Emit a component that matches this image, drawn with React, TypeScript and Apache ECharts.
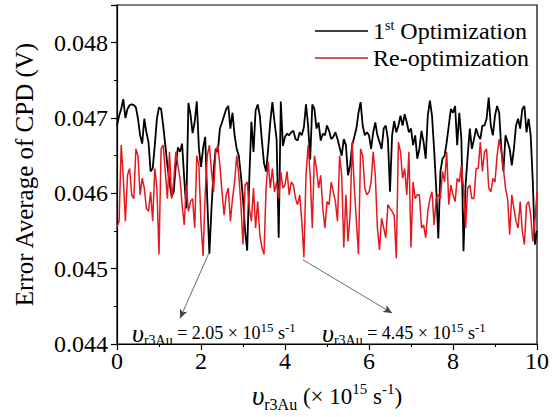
import React, { useEffect, useRef } from 'react';
import * as echarts from 'echarts';

const FONT = 'Liberation Serif';

// x grid of the samples (×10^15 s^-1)
const xStep = 0.05;

// 1st Optimization, mV, segments of 2 units of x
const firstOpt_0_2 = [46.9, 47.03, 47.12, 47.25, 47.0, 47.12, 47.17, 47.18, 47.17, 47.14,
  46.99, 46.77, 46.66, 46.99, 46.81, 46.68, 46.29, 46.33, 46.64, 46.99,
  47.14, 47.12, 46.9, 46.64, 46.37, 46.15, 45.96, 46.02, 46.37, 46.61,
  46.55, 46.66, 46.2, 45.8, 47.2, 47.05, 46.8, 46.95, 47.22, 46.6];
const firstOpt_2_4 = [46.35, 46.6, 46.75, 45.9, 45.2, 45.8, 46.3, 46.59, 46.55, 46.86,
  46.94, 47.03, 47.12, 47.16, 46.86, 47.07, 46.77, 46.59, 46.5, 46.24,
  45.93, 45.5, 45.24, 46.2, 46.95, 46.55, 47.1, 47.18, 47.03, 46.7,
  46.4, 46.29, 46.6, 46.95, 47.21, 46.95, 46.72, 45.41, 47.22, 46.63];
const firstOpt_4_6 = [46.75, 46.79, 46.77, 46.81, 46.83, 46.72, 46.7, 46.81, 46.77, 46.88,
  47.18, 46.9, 46.45, 47.18, 47.12, 46.86, 46.94, 46.7, 46.79, 46.77,
  46.9, 46.83, 46.72, 46.75, 46.81, 46.72, 46.61, 46.5, 46.72, 46.64,
  46.24, 46.37, 46.64, 46.75, 46.86, 47.07, 47.21, 46.9, 46.77, 46.81];
const firstOpt_6_8 = [46.77, 46.59, 46.81, 46.94, 46.77, 46.68, 46.59, 46.86, 46.9, 46.72,
  46.02, 46.77, 46.96, 46.81, 46.9, 47.03, 46.9, 47.05, 46.94, 46.81,
  46.86, 46.64, 46.77, 46.46, 46.59, 46.83, 46.68, 46.46, 47.03, 47.23,
  47.03, 46.59, 46.07, 45.4, 46.29, 46.46, 46.5, 46.68, 46.9, 47.12];
const firstOpt_8_10 = [47.07, 47.16, 46.64, 47.07, 46.72, 45.23, 46.11, 46.5, 46.86, 46.59,
  46.72, 46.86, 46.77, 46.72, 46.9, 46.9, 46.99, 47.27, 46.9, 46.77,
  47.03, 47.16, 47.07, 46.59, 46.29, 46.77, 46.68, 46.59, 46.37, 46.59,
  46.9, 46.99, 46.86, 47.12, 47.16, 46.81, 46.99, 46.77, 46.15, 45.32, 45.5];

// Re-optimization, mV
const reOpt_0_2 = [45.55, 45.63, 46.64, 46.2, 45.63, 46.24, 46.33, 45.98, 45.93, 46.59,
  46.5, 45.98, 46.2, 46.07, 45.8, 45.76, 46.02, 45.63, 46.33, 46.07,
  45.19, 46.59, 46.64, 46.29, 45.93, 46.55, 45.93, 46.15, 46.55, 46.37,
  46.2, 45.85, 45.58, 46.11, 45.76, 45.89, 45.93, 45.54, 46.5, 46.37];
const reOpt_2_4 = [45.6, 45.17, 46.0, 46.5, 46.64, 46.29, 46.02, 46.55, 46.64, 46.37,
  46.02, 45.71, 45.98, 46.07, 45.63, 45.93, 46.15, 46.5, 46.24, 45.85,
  45.32, 46.11, 46.15, 45.8, 45.63, 46.07, 45.54, 45.89, 45.45, 45.28,
  45.19, 46.07, 46.42, 46.07, 46.33, 46.02, 46.15, 45.93, 46.29, 46.07];
const reOpt_4_6 = [46.11, 46.29, 45.98, 46.15, 46.11, 45.93, 45.85, 45.98, 45.63, 45.15,
  46.24, 46.64, 46.24, 45.54, 46.5, 46.33, 46.07, 46.24, 45.8, 45.54,
  45.89, 45.85, 46.15, 46.02, 45.89, 45.63, 46.5, 46.24, 45.28, 45.98,
  45.36, 45.71, 46.68, 46.07, 45.63, 45.19, 46.59, 46.5, 46.07, 45.98];
const reOpt_6_8 = [46.02, 46.15, 46.55, 46.24, 45.54, 45.25, 45.67, 45.54, 45.41, 45.85,
  45.8, 45.76, 45.71, 45.14, 46.68, 46.55, 46.2, 46.33, 45.98, 46.55,
  45.28, 46.15, 45.93, 45.98, 45.98, 45.54, 45.58, 45.41, 45.76, 45.93,
  46.02, 45.58, 45.93, 45.98, 45.93, 46.29, 46.15, 46.55, 45.85, 46.11];
const reOpt_8_10 = [45.98, 45.89, 46.2, 46.15, 46.37, 46.07, 45.54, 46.07, 46.11, 45.93,
  45.93, 46.33, 46.33, 46.68, 46.29, 46.55, 46.59, 46.07, 46.02, 46.2,
  46.15, 46.5, 46.72, 46.55, 46.33, 46.07, 45.93, 45.45, 45.98, 45.8,
  45.63, 45.54, 45.89, 45.5, 45.32, 45.85, 45.89, 45.71, 45.36, 45.63, 46.02];

// annotation arrows [x, V]
const arrowFrom = [[2.19, 0.04521], [4.42, 0.04512]];
const arrowTo = [[1.5, 0.04434], [6.55, 0.04441]];
const annotationValues = ['2.05', '4.45'];

const firstOpt = [...firstOpt_0_2, ...firstOpt_2_4, ...firstOpt_4_6, ...firstOpt_6_8, ...firstOpt_8_10];
const reOpt = [...reOpt_0_2, ...reOpt_2_4, ...reOpt_4_6, ...reOpt_6_8, ...reOpt_8_10];

const toPairs = (arr: number[]) => arr.map((v, i) => [Number((i * xStep).toFixed(2)), v / 1000]);

const annoRich = {
  u: { fontFamily: FONT, fontSize: 26, fontStyle: 'italic', fill: '#000' },
  sub: { fontFamily: FONT, fontSize: 14, padding: [14, 0, 0, 0], fill: '#000' },
  n: { fontFamily: FONT, fontSize: 18, fill: '#000' },
  sup: { fontFamily: FONT, fontSize: 13, padding: [0, 0, 12, 0], fill: '#000' },
};

export default function App() {
  const ref = useRef<HTMLDivElement>(null);
  useEffect(() => {
    if (!ref.current) return;
    const chart = echarts.init(ref.current, undefined, { renderer: 'svg' });
    const annoX = [132, 322];
    chart.setOption({
      animation: false,
      backgroundColor: '#fff',
      textStyle: { fontFamily: FONT },
      grid: { left: 117, right: 10, top: 5, bottom: 70, show: true, borderColor: '#000', borderWidth: 1.2 },
      legend: {
        orient: 'vertical', left: 315, top: 18, padding: 0, itemWidth: 53, itemHeight: 1.5, itemGap: 3,
        icon: 'rect',
        data: [
          { name: '1st Optimization', itemStyle: { color: '#000' } },
          { name: 'Re-optimization', itemStyle: { color: '#b3222a' } },
        ],
        formatter: (name: string) => name === '1st Optimization' ? '{a|1}{s|st}{a| Optimization}' : '{a|Re-optimization}',
        textStyle: {
          color: '#000', fontFamily: FONT, fontSize: 24,
          rich: {
            a: { fontFamily: FONT, fontSize: 24, color: '#000' },
            s: { fontFamily: FONT, fontSize: 14, color: '#000', padding: [0, 0, 12, 0] },
          },
        },
      },
      xAxis: {
        type: 'value', min: 0, max: 10, interval: 2,
        axisLine: { lineStyle: { color: '#000', width: 1.2 } },
        axisTick: { length: 6, lineStyle: { color: '#000', width: 1.2 } },
        minorTick: { show: true, splitNumber: 2, length: 3, lineStyle: { color: '#000', width: 1 } },
        splitLine: { show: false },
        axisLabel: { color: '#000', fontFamily: FONT, fontSize: 24, margin: 5 },
        name: '{u|υ}{sub|r3Au}{n| (× 10}{sup|15}{n| s}{sup|-1}{n|)}',
        nameLocation: 'middle', nameGap: 36,
        nameTextStyle: {
          color: '#000', fontFamily: FONT, fontSize: 23,
          rich: {
            u: { fontFamily: FONT, fontSize: 27, fontStyle: 'italic', color: '#000' },
            sub: { fontFamily: FONT, fontSize: 16, color: '#000', padding: [16, 0, 0, 0] },
            n: { fontFamily: FONT, fontSize: 23, color: '#000' },
            sup: { fontFamily: FONT, fontSize: 15, color: '#000', padding: [0, 0, 14, 0] },
          },
        },
      },
      yAxis: {
        type: 'value', min: 0.044, max: 0.0485, interval: 0.001,
        axisLine: { lineStyle: { color: '#000', width: 1.2 } },
        axisTick: { length: 6, lineStyle: { color: '#000', width: 1.2 } },
        minorTick: { show: true, splitNumber: 2, length: 3, lineStyle: { color: '#000', width: 1 } },
        splitLine: { show: false },
        axisLabel: {
          color: '#000', fontFamily: FONT, fontSize: 24, margin: 9, showMaxLabel: false,
          formatter: (v: number) => v.toFixed(3),
        },
        name: 'Error Average of CPD (V)',
        nameLocation: 'middle', nameGap: 80,
        nameTextStyle: { color: '#000', fontFamily: FONT, fontSize: 25 },
      },
      series: [
        {
          name: '1st Optimization', type: 'line', data: toPairs(firstOpt),
          showSymbol: false, symbol: 'none',
          lineStyle: { color: '#000', width: 1.8 }, itemStyle: { color: '#000' },
        },
        {
          name: 'Re-optimization', type: 'line', data: toPairs(reOpt),
          showSymbol: false, symbol: 'none',
          lineStyle: { color: '#e3191f', width: 1.5 }, itemStyle: { color: '#b3222a' },
          markLine: {
            silent: true, symbol: ['none', 'arrow'], symbolSize: [6, 9],
            lineStyle: { color: '#444', width: 0.8, type: 'solid' },
            label: { show: false },
            data: arrowFrom.map((f, i) => [{ coord: f }, { coord: arrowTo[i] }]),
          },
        },
      ],
      graphic: annotationValues.map((val, i) => ({
        type: 'text', left: annoX[i], top: 320,
        style: {
          text: `{u|υ}{sub|r3Au}{n| = ${val} × 10}{sup|15}{n| s}{sup|-1}`,
          rich: annoRich,
          fill: '#000',
          font: `18px ${FONT}`,
        },
      })),
    });
    return () => chart.dispose();
  }, []);
  return <div ref={ref} style={{ position: 'absolute', left: 0, top: 0, width: 552, height: 417 }} />;
}
